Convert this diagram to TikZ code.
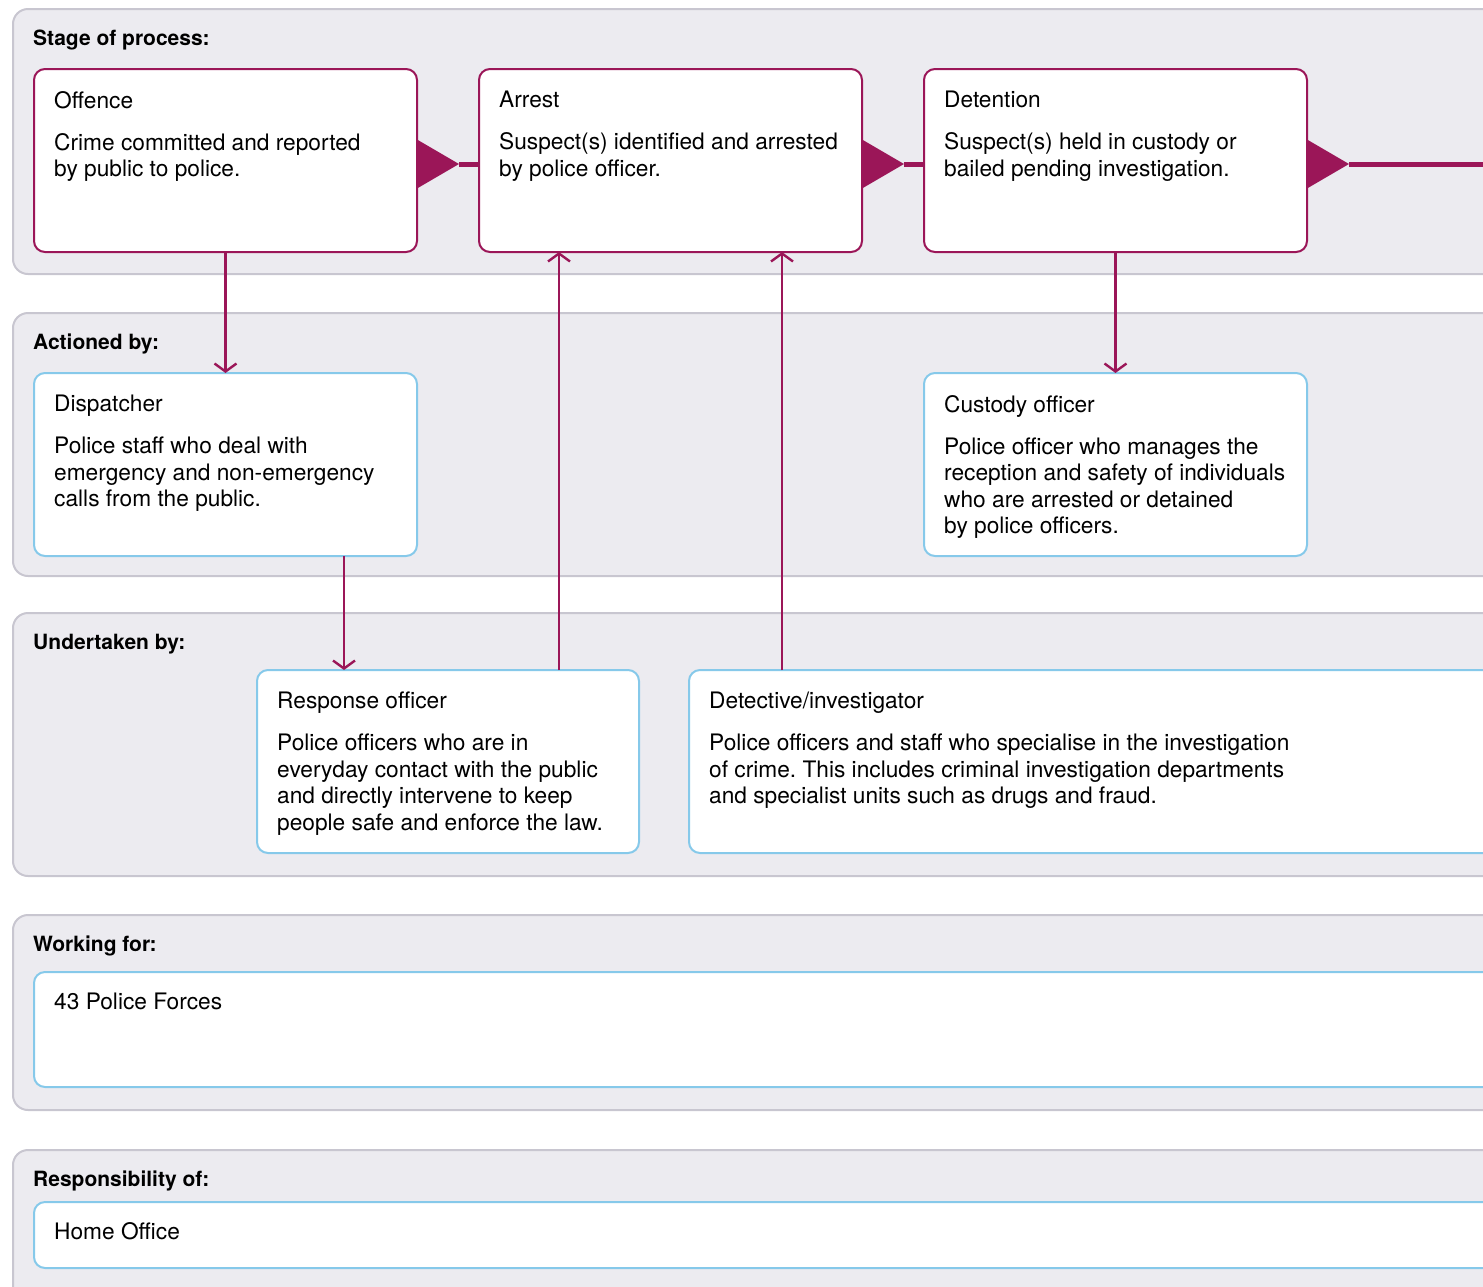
\documentclass[tikz,border=0pt]{standalone}
\usepackage{fontspec}
\setmainfont{TeX Gyre Heros}
\frenchspacing
\usetikzlibrary{
  arrows.meta,
  positioning,  % right=of, below=of
}
\definecolor{plum}{HTML}{9B1658}
\definecolor{sky}{HTML}{86C9EA}
\definecolor{lane}{HTML}{ECEBF0}
\definecolor{laneline}{HTML}{C8C6D0}
\newcommand{\boxtitle}[2]{#1\\[15.5pt]#2}
\tikzset{
  panel/.style={
    draw=laneline,
    fill=lane,
    line width=2pt,
    rounded corners=15pt,
    anchor=north west,
    inner sep=0pt,
    outer sep=0pt
  },
  stagebox/.style={
    draw=plum,
    fill=white,
    line width=2pt,
    rounded corners=11pt,
    minimum width=383pt,
    minimum height=183pt,
    inner sep=0pt,
    outer sep=0pt
  },
  rolebox/.style={
    stagebox,
    draw=sky
  },
  head/.style={
    font=\fontsize{21}{25}\selectfont\bfseries,
    anchor=base west,
    inner sep=0pt
  },
  txt/.style={
    font=\fontsize{22.7}{26.5}\selectfont,
    align=left,
    inner sep=0pt
  },
  flow/.style={
    draw=plum,
    line width=5pt,
    {Triangle[reversed,length=42pt,width=49pt,line width=0pt]}-
  },
  link/.style={
    draw=plum,
    line width=2.4pt,
    -{Straight Barb[length=8pt,width=22pt]}
  }
}
\begin{document}
\begin{tikzpicture}[x=1pt,y=-1pt]
\useasboundingbox (0,0) rectangle (1483,1286);
\clip (0,0) rectangle (1483,1286);
% lanes
\node[panel,minimum width=1520pt,minimum height=265pt] (stage)  at (13,9)    {};
\node[panel,minimum width=1520pt,minimum height=263pt] (action) at (13,313)  {};
\node[panel,minimum width=1520pt,minimum height=263pt] (under)  at (13,613)  {};
\node[panel,minimum width=1520pt,minimum height=195pt] (work)   at (13,915)  {};
\node[panel,minimum width=1520pt,minimum height=180pt] (resp)   at (13,1150) {};
\node[head] at ([shift={(20,36)}]stage.north west)  {Stage of process:};
\node[head] at ([shift={(20,36)}]action.north west) {Actioned by:};
\node[head] at ([shift={(20,36)}]under.north west)  {Undertaken by:};
\node[head] at ([shift={(20,36)}]work.north west)   {Working for:};
\node[head] at ([shift={(20,36)}]resp.north west)   {Responsibility of:};
% stages
\node[stagebox,anchor=north west] (offence)   at (34,69) {};
\node[stagebox] (arrest)    [right=62pt of offence] {};
\node[stagebox] (detention) [right=62pt of arrest]  {};
% roles
\node[rolebox] (dispatcher) [below=121pt of offence]   {};
\node[rolebox] (custody)    [below=121pt of detention] {};
\node[rolebox,anchor=north west,minimum width=382pt] (response) at (257,670) {};
\node[rolebox,minimum width=900pt] (detective) [right=50pt of response] {};
\node[rolebox,anchor=north west,minimum width=1500pt,minimum height=115pt] (forces) at (34,972) {};
\node[rolebox,anchor=north west,minimum width=1500pt,minimum height=66pt] (office) at (34,1202) {};
% texts
\node[txt,below right=22pt and 20pt of offence.north west]
  {\boxtitle{Offence}{Crime committed and reported\\by public to police.}};
\node[txt,below right=22pt and 20pt of arrest.north west]
  {\boxtitle{Arrest}{Suspect(s) identified and arrested\\by police officer.}};
\node[txt,below right=22pt and 20pt of detention.north west]
  {\boxtitle{Detention}{Suspect(s) held in custody or\\bailed pending investigation.}};
\node[txt,below right=22pt and 20pt of dispatcher.north west]
  {\boxtitle{Dispatcher}{Police staff who deal with\\emergency and non-emergency\\calls from the public.}};
\node[txt,below right=22pt and 20pt of custody.north west]
  {\boxtitle{Custody officer}{Police officer who manages the\\reception and safety of individuals\\who are arrested or detained\\by police officers.}};
\node[txt,below right=22pt and 20pt of response.north west]
  {\boxtitle{Response officer}{Police officers who are in\\everyday contact with the public\\and directly intervene to keep\\people safe and enforce the law.}};
\node[txt,below right=22pt and 20pt of detective.north west]
  {\boxtitle{Detective/investigator}{Police officers and staff who specialise in the investigation\\of crime. This includes criminal investigation departments\\and specialist units such as drugs and fraud.}};
\node[txt,below right=21pt and 20pt of forces.north west] {43 Police Forces};
\node[txt,below right=20pt and 20pt of office.north west] {Home Office};
% connectors
\coordinate (onward) at ([shift={(250,3.5)}]detention.east);
\draw[flow] ([yshift=-3.5pt]offence.east) -- ([yshift=-3.5pt]arrest.west);
\draw[flow] ([yshift=-3.5pt]arrest.east) -- ([yshift=-3.5pt]detention.west);
\draw[flow] ([yshift=-3.5pt]detention.east) -- (onward);
\coordinate (d1) at ([xshift=310pt]dispatcher.south west);
\coordinate (a1) at ([xshift=80pt]arrest.south west);
\coordinate (a2) at ([xshift=303pt]arrest.south west);
\draw[link] (offence) -- (dispatcher);
\draw[link] (detention) -- (custody);
\draw[link] (d1) -- (d1 |- response.north);
\draw[link] (a1 |- response.north) -- (a1);
\draw[link] (a2 |- detective.north) -- (a2);
\end{tikzpicture}
\end{document}
